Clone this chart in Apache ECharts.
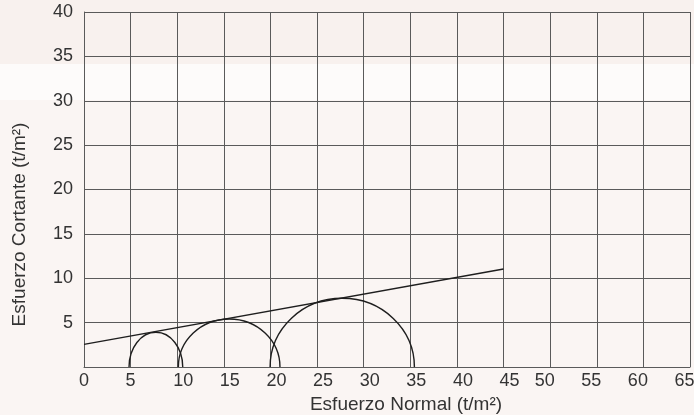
<!DOCTYPE html>
<html>
<head>
<meta charset="utf-8">
<script src="https://cdn.jsdelivr.net/npm/echarts@6/dist/echarts.min.js"></script>
<style>
html,body{margin:0;padding:0;background:#f8f1ee;}
#c{width:694px;height:415px;}
</style>
</head>
<body>
<div id="c"></div>
<script>
// Mohr circles: [centre sigma, half-width (sigma units), height (tau units)]
var circles = [
  [7.71, 2.88, 3.91],
  [15.57, 5.45, 5.41],
  [27.70, 7.74, 7.74]
];
// Failure envelope endpoints [sigma, tau]
var envelope = [[0, 2.55], [45, 11.05]];
var xTicks = [0, 5, 10, 15, 20, 25, 30, 35, 40, 45, 50, 55, 60, 65];
var yTicks = [5, 10, 15, 20, 25, 30, 35, 40];
var xName = 'Esfuerzo Normal (t/m²)';
var yName = 'Esfuerzo Cortante (t/m²)';

var chart = echarts.init(document.getElementById('c'), null, {renderer: 'canvas'});
var font = '"Liberation Sans", Arial, sans-serif';
var gridColor = '#5a5a5a';

chart.setOption({
  backgroundColor: '#f8f1ee',
  animation: false,
  graphic: [
    {type: 'rect', z: -10, silent: true, shape: {x: 0, y: 64, width: 694, height: 36}, style: {fill: '#fdfbfa'}},
    {type: 'rect', z: -10, silent: true, shape: {x: 0, y: 100, width: 694, height: 315}, style: {fill: '#faf5f3'}},
    {type: 'text', x: 20, y: 224.5, rotation: Math.PI / 2, silent: true,
     style: {text: yName, fontSize: 19, fontFamily: font, fill: '#333', align: 'center', verticalAlign: 'middle'}}
  ],
  grid: {left: 84, right: 4, top: 12, bottom: 48, show: false, outerBoundsMode: 'none', containLabel: false},
  xAxis: {
    type: 'value', min: 0, max: 65, interval: 5,
    name: xName, nameLocation: 'middle', nameGap: 23,
    nameTextStyle: {fontSize: 19, fontFamily: font, color: '#333', padding: [0, 0, 0, 38]},
    axisLine: {show: true, lineStyle: {color: gridColor, width: 1}},
    axisTick: {show: false},
    axisLabel: {
      fontSize: 18, fontFamily: font, color: '#333', margin: 5,
      formatter: function (v) {
        if (xTicks.indexOf(v) < 0) return '';
        if (v < 10) return String(v);
        return (v <= 45 ? '{r|' : '{l|') + v + '}';
      },
      rich: {
        r: {fontSize: 18, fontFamily: font, color: '#333', padding: [0, 0, 0, 12]},
        l: {fontSize: 18, fontFamily: font, color: '#333', padding: [0, 11, 0, 0]}
      }
    },
    splitLine: {show: true, lineStyle: {color: gridColor, width: 1}}
  },
  yAxis: {
    type: 'value', min: 0, max: 40, interval: 5,
    axisLine: {show: true, lineStyle: {color: gridColor, width: 1}},
    axisTick: {show: false},
    axisLabel: {
      fontSize: 18, fontFamily: font, color: '#333', margin: 11,
      formatter: function (v) { return yTicks.indexOf(v) >= 0 ? String(v) : ''; }
    },
    splitLine: {show: true, lineStyle: {color: gridColor, width: 1}}
  },
  series: [
    {
      type: 'line',
      data: envelope,
      symbol: 'none',
      lineStyle: {color: '#1e1e1e', width: 1.5},
      z: 5
    },
    {
      type: 'custom',
      data: circles,
      encode: {x: 0, y: 2},
      z: 5,
      renderItem: function (params, api) {
        var cx = api.value(0), rx = api.value(1), ry = api.value(2);
        var p0 = api.coord([cx - rx, 0]);
        var p1 = api.coord([cx + rx, 0]);
        var pt = api.coord([cx, ry]);
        var rxp = (p1[0] - p0[0]) / 2;
        var ryp = p0[1] - pt[1];
        return {
          type: 'path',
          shape: {
            pathData: 'M' + p0[0] + ' ' + p0[1] + ' A' + rxp + ' ' + ryp + ' 0 0 1 ' + p1[0] + ' ' + p1[1]
          },
          style: {fill: 'none', stroke: '#1e1e1e', lineWidth: 1.4}
        };
      }
    }
  ]
});
</script>
</body>
</html>
